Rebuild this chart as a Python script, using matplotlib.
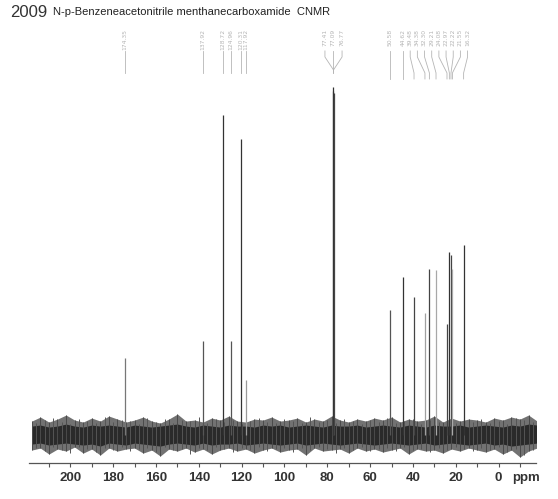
#!/usr/bin/env python3
"""13C NMR spectrum of N-p-benzeneacetonitrile menthanecarboxamide (2009)."""
import matplotlib
matplotlib.use("Agg")
import matplotlib.pyplot as plt
from matplotlib.ticker import MultipleLocator

# peak positions (ppm), heights (arbitrary units) and shade
PEAK_PPM = [174.35, 137.92, 128.72, 124.96, 120.31, 117.92,
            77.41, 77.09, 76.77,
            50.58, 44.62, 39.48, 34.38, 32.30, 29.21, 24.08, 22.97, 22.22, 21.55, 16.32]
PEAK_HEIGHT = [77, 94, 320, 94, 296, 55,
               344, 348, 342,
               125, 158, 138, 122, 166, 165, 111, 183, 180, 166, 190]
PEAK_COLOR = ["#777777", "#555555", "#333333", "#555555", "#333333", "#9a9a9a",
              "#444444", "#333333", "#444444",
              "#555555", "#333333", "#444444", "#a0a0a0", "#444444", "#a8a8a8",
              "#444444", "#333333", "#444444", "#aaaaaa", "#333333"]
PEAK_LABELS = ["174.35", "137.92", "128.72", "124.96", "120.31", "117.92",
               "77.41", "77.09", "76.77",
               "50.58", "44.62", "39.48", "34.38", "32.30", "29.21",
               "24.08", "22.97", "22.22", "21.55", "16.32"]

# baseline noise envelope, read every 4 ppm from 218 down to -18
NOISE_PPM = [218, 214, 210, 206, 202, 198, 194, 190, 186, 182,
             178, 174, 170, 166, 162, 158, 154, 150, 146, 142,
             138, 134, 130, 126, 122, 118, 114, 110, 106, 102,
             98, 94, 90, 86, 82, 78, 74, 70, 66, 62,
             58, 54, 50, 46, 42, 38, 34, 30, 26, 22,
             18, 14, 10, 6, 2, -2, -6, -10, -14, -18]
NOISE_OUT_UP = [14, 18, 13, 16, 20, 15, 13, 17, 14, 19,
                16, 13, 15, 18, 14, 12, 16, 21, 14, 15,
                13, 17, 15, 19, 14, 13, 16, 15, 18, 14,
                15, 17, 13, 16, 14, 19, 15, 13, 16, 14,
                17, 15, 18, 13, 16, 14, 15, 19, 13, 17,
                14, 16, 15, 13, 17, 15, 18, 16, 20, 14]
NOISE_OUT_LO = [-15, -13, -19, -14, -16, -12, -18, -14, -20, -13,
                -16, -14, -13, -18, -15, -21, -14, -16, -13, -17,
                -14, -19, -15, -13, -16, -14, -18, -15, -13, -17,
                -15, -14, -20, -13, -16, -15, -14, -18, -13, -16,
                -14, -17, -15, -13, -19, -14, -16, -15, -18, -14,
                -16, -13, -15, -17, -14, -19, -15, -22, -16, -13]
NOISE_CORE_UP = [9, 10, 8, 9, 11, 9, 8, 10, 9, 10,
                 9, 8, 10, 9, 8, 9, 10, 11, 9, 8,
                 10, 9, 8, 10, 9, 9, 8, 10, 9, 10,
                 8, 9, 10, 9, 8, 10, 9, 9, 10, 8,
                 9, 10, 9, 8, 10, 9, 8, 10, 9, 9,
                 10, 8, 9, 10, 9, 8, 10, 9, 11, 10]
NOISE_CORE_LO = [-9, -8, -10, -9, -8, -9, -10, -9, -11, -8,
                 -9, -10, -8, -9, -10, -11, -9, -8, -9, -10,
                 -8, -10, -9, -9, -8, -10, -9, -8, -9, -10,
                 -9, -8, -10, -9, -8, -9, -10, -9, -8, -9,
                 -10, -9, -8, -9, -10, -9, -8, -10, -9, -8,
                 -9, -10, -9, -8, -10, -9, -11, -10, -9, -8]

# extra noise spikes in between, 216 down to -16
SPIKE_PPM = [216, 212, 208, 204, 200, 196, 192, 188, 184, 180,
             176, 172, 168, 164, 160, 156, 152, 148, 144, 140,
             136, 132, 128, 124, 120, 116, 112, 108, 104, 100,
             96, 92, 88, 84, 80, 76, 72, 68, 64, 60,
             56, 52, 48, 44, 40, 36, 32, 28, 24, 20,
             16, 12, 8, 4, 0, -4, -8, -12, -16]
SPIKE_UP = [12, 15, 17, 13, 11, 16, 14, 12, 18, 13,
            15, 14, 11, 17, 13, 16, 12, 15, 14, 18,
            12, 16, 13, 15, 11, 14, 17, 13, 12, 16,
            14, 12, 18, 13, 15, 12, 16, 14, 11, 15,
            13, 17, 12, 14, 16, 11, 15, 13, 17, 12,
            15, 13, 16, 12, 14, 11, 17, 15, 13]
SPIKE_LO = [-13, -16, -12, -15, -18, -12, -14, -17, -13, -15,
            -12, -16, -14, -13, -17, -12, -15, -14, -19, -13,
            -15, -12, -14, -17, -13, -15, -12, -16, -14, -13,
            -17, -13, -15, -12, -14, -18, -13, -15, -12, -16,
            -14, -13, -16, -12, -15, -14, -17, -13, -15, -12,
            -14, -16, -13, -15, -12, -17, -14, -20, -15]

TICKS = [200, 180, 160, 140, 120, 100, 80, 60, 40, 20, 0]

fig = plt.figure(figsize=(5.58, 4.99), dpi=100)
ax = fig.add_axes([0.052, 0.072, 0.909, 0.878])
ax.set_xlim(219.3, -17.6)
ax.set_ylim(-28, 410)

# noise band
ax.fill_between(NOISE_PPM, NOISE_OUT_LO, NOISE_OUT_UP, color="#727272", lw=0)
ax.fill_between(NOISE_PPM, NOISE_CORE_LO, NOISE_CORE_UP, color="#2a2a2a", lw=0)
ax.vlines(NOISE_PPM, NOISE_OUT_LO, NOISE_OUT_UP, color="#4a4a4a", lw=0.7)
ax.vlines(SPIKE_PPM, SPIKE_LO, SPIKE_UP, color="#555555", lw=0.7)

# peaks
ax.vlines(PEAK_PPM, 0, PEAK_HEIGHT, colors=PEAK_COLOR, lw=0.9)

# peak labels with leader lines (y in same units: 1 unit ~ 1 px)
lab_col = "#b5b5b5"
groups = [(0, 6, None), (6, 9, 77.09), (9, 20, None)]
for i0, i1, join in groups:
    ppms = PEAK_PPM[i0:i1]
    if join is not None:
        lab_x = [join + 4.0, join, join - 4.0]
    elif i0 == 0:
        lab_x = list(ppms)
    else:
        lab_x = [ppms[0]] + [44.62 - 3.35 * k for k in range(len(ppms) - 1)]
    for k, p in enumerate(ppms):
        lx = lab_x[k]
        ax.text(lx, 406, PEAK_LABELS[i0 + k], rotation=90, ha="center", va="top",
                fontsize=4.3, color=lab_col, family="DejaVu Sans")
        if join is not None:
            ax.plot([lx, lx, join, join], [384, 378, 365, 362], color=lab_col, lw=0.6)
        elif i0 == 0:
            ax.plot([p, p], [384, 362], color=lab_col, lw=0.6)
        else:
            ax.plot([lx, lx, p, p], [384, 378, 362, 356], color=lab_col, lw=0.6)

for side in ["top", "right", "left"]:
    ax.spines[side].set_visible(False)
ax.spines["bottom"].set_color("#555555")
ax.spines["bottom"].set_linewidth(0.9)
ax.set_yticks([])
ax.set_xticks(TICKS)
ax.xaxis.set_minor_locator(MultipleLocator(10))
ax.tick_params(axis="x", which="both", direction="out", length=3, width=0.8,
               color="#555555", pad=3.5, labelsize=9.5, labelcolor="#333333")
for t in ax.get_xticklabels():
    t.set_fontweight("bold")
    t.set_family("Liberation Sans")
ax.text(-13.0, -43, "ppm", ha="center", va="center", fontsize=9.5, fontweight="bold",
        color="#333333", family="Liberation Sans")

fig.text(0.018, 0.975, "2009", fontsize=12, color="#333333", family="Liberation Sans",
         va="center", ha="left")
fig.text(0.095, 0.975, "N-p-Benzeneacetonitrile menthanecarboxamide  CNMR", fontsize=8,
         color="#222222", family="Liberation Sans", va="center", ha="left")

fig.savefig("out.png", dpi=100)
